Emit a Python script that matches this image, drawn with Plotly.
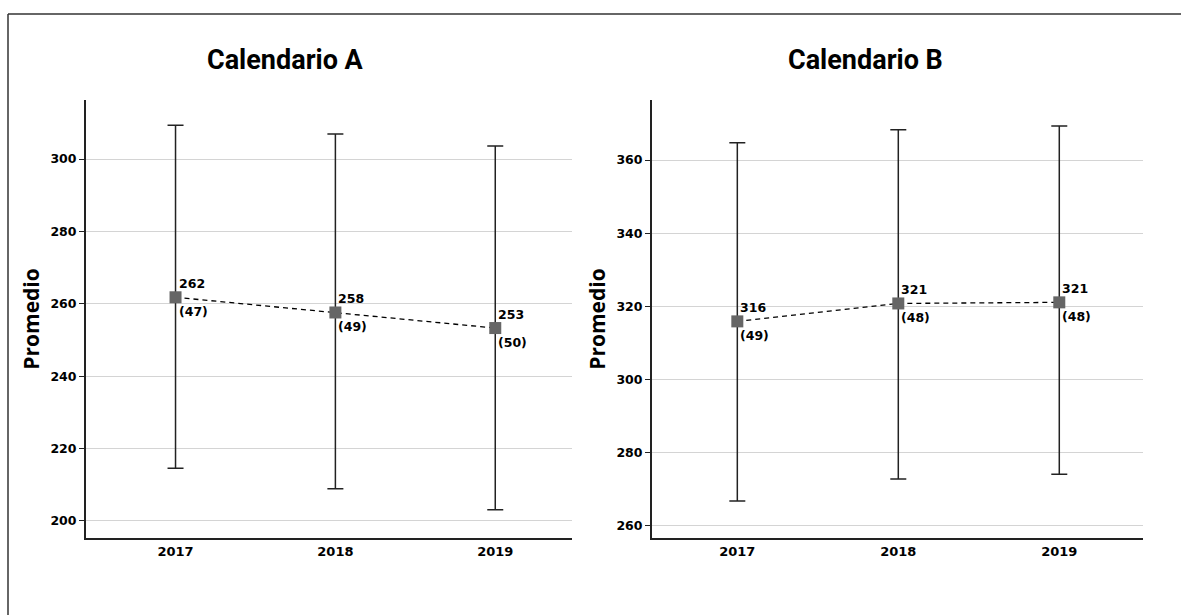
import plotly.graph_objects as go
from plotly.subplots import make_subplots

years = ["2017", "2018", "2019"]

# Calendario A
mean_a = [261.8, 257.6, 253.3]
upper_a = [309.3, 306.9, 303.6]
lower_a = [214.6, 208.9, 203.1]
label_a = ["262", "258", "253"]
n_a = ["(47)", "(49)", "(50)"]

# Calendario B
mean_b = [315.9, 320.8, 321.1]
upper_b = [364.7, 368.3, 369.3]
lower_b = [266.8, 272.8, 274.1]
label_b = ["316", "321", "321"]
n_b = ["(49)", "(48)", "(48)"]

titles = ["Calendario A", "Calendario B"]

W, H = 1181, 615
TITLEF = "Roboto, sans-serif"
TICKF = "DejaVu Sans, Verdana, sans-serif"

fig = make_subplots(rows=1, cols=2)

panels = [(mean_a, upper_a, lower_a, label_a, n_a), (mean_b, upper_b, lower_b, label_b, n_b)]
for i, (m, up, lo, lab, nn) in enumerate(panels, start=1):
    fig.add_trace(go.Scatter(
        x=years, y=m, mode="lines+markers",
        line=dict(color="black", width=1.3, dash="5px,4px"),
        marker=dict(symbol="square", size=12, color="#666666"),
        error_y=dict(type="data", symmetric=False,
                     array=[u - v for u, v in zip(up, m)],
                     arrayminus=[v - l for v, l in zip(m, lo)],
                     color="#222222", thickness=1.5, width=8),
        showlegend=False, hoverinfo="skip"), row=1, col=i)
    xr = "x" if i == 1 else "x2"
    yr = "y" if i == 1 else "y2"
    for k, (yv, t1, t2) in enumerate(zip(m, lab, nn)):
        fig.add_annotation(x=k, y=yv, xref=xr, yref=yr, text=t1,
                           showarrow=False, xanchor="left", yanchor="bottom",
                           xshift=1, yshift=4,
                           font=dict(family=TICKF, size=12.5, color="black", weight="bold"))
        fig.add_annotation(x=k, y=yv, xref=xr, yref=yr, text=t2,
                           showarrow=False, xanchor="left", yanchor="top",
                           xshift=1, yshift=-5,
                           font=dict(family=TICKF, size=12.5, color="black", weight="bold"))

dom_x = [[86 / W, 572 / W], [652 / W, 1143 / W]]
dom_y = [1 - 538 / H, 1 - 100 / H]
yranges = [[195.3, 316.3], [256.7, 376.4]]
xranges = [[-0.56, 2.48], [-0.53, 2.52]]

for i in range(2):
    fig.update_xaxes(row=1, col=i + 1, domain=dom_x[i], range=xranges[i], type="category",
                     showline=True, linecolor="#222222", linewidth=2,
                     showgrid=False, ticks="", zeroline=False,
                     tickfont=dict(family=TICKF, size=13, color="black", weight="bold"))
    fig.update_yaxes(row=1, col=i + 1, domain=dom_y, range=yranges[i],
                     showline=True, linecolor="#222222", linewidth=2,
                     showgrid=True, gridcolor="#d4d4d4", gridwidth=1.2,
                     ticks="outside", ticklen=5, tickcolor="#222222", tickwidth=1,
                     dtick=20, zeroline=False,
                     title=dict(text="Promedio", standoff=5,
                                font=dict(family="Open Sans", size=21, color="black", weight="bold")),
                     tickfont=dict(family=TICKF, size=12.5, color="black", weight="bold"))

for i, t in enumerate(titles):
    fig.add_annotation(x=[285 / W, 865 / W][i], y=1 - 60 / H, xref="paper", yref="paper",
                       text=t, showarrow=False, xanchor="center", yanchor="middle",
                       font=dict(family=TITLEF, size=27, color="black", weight="bold"))

# outer frame (top and left edges visible)
fig.add_shape(type="line", xref="paper", yref="paper", x0=8 / W, x1=1.0, y0=1 - 14 / H, y1=1 - 14 / H,
              line=dict(color="#333333", width=1.5))
fig.add_shape(type="line", xref="paper", yref="paper", x0=8 / W, x1=8 / W, y0=0, y1=1 - 14 / H,
              line=dict(color="#333333", width=1.5))

fig.update_layout(width=W, height=H, margin=dict(l=0, r=0, t=0, b=0),
                  paper_bgcolor="white", plot_bgcolor="white")

fig.write_html("out.html", config={"displayModeBar": False},
               post_script="document.body.style.margin='0';")
